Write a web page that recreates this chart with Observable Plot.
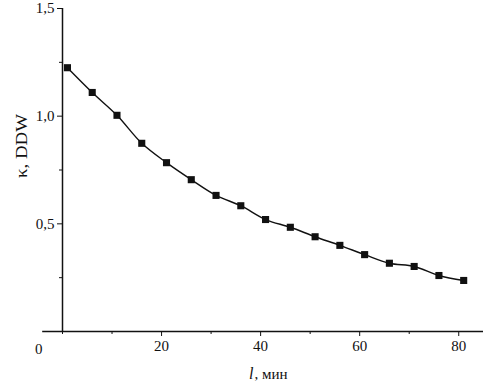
<!DOCTYPE html>
<html>
<head>
<meta charset="utf-8">
<script src="https://cdn.jsdelivr.net/npm/d3@7"></script>
<script src="https://cdn.jsdelivr.net/npm/@observablehq/plot@0.6"></script>
<style>
  html, body { margin: 0; padding: 0; background: #fff; }
  svg { display: block; }
</style>
</head>
<body>
<div id="chart"></div>
<script>
const times = [1, 6, 11, 16, 21, 26, 31, 36, 41, 46, 51, 56, 61, 66, 71, 76, 81];
const kappa = [1.225, 1.110, 1.004, 0.874, 0.784, 0.705, 0.632, 0.584, 0.520, 0.484, 0.440, 0.400, 0.357, 0.317, 0.302, 0.260, 0.237];
const xMajorTicks = [20, 40, 60, 80];
const xMinorTicks = [0, 10, 30, 50, 70];
const yMajorTicks = [0.5, 1.0, 1.5];
const yMinorTicks = [0.25, 0.75, 1.25];

const data = times.map((t, i) => ({t, k: kappa[i]}));
const fmt = d => d.toFixed(1).replace(".", ",");
const font = "Liberation Serif, Times New Roman, serif";

const chart = Plot.plot({
  width: 486,
  height: 389,
  marginLeft: 62,
  marginRight: 3,
  marginTop: 8,
  marginBottom: 58,
  style: {fontFamily: font, fontSize: "15px", color: "#111", background: "#fff"},
  x: {domain: [0, 85]},
  y: {domain: [0, 1.5]},
  marks: [
    Plot.ruleY([0], {x1: -4, x2: 85, stroke: "#111", strokeWidth: 1.5}),
    Plot.ruleX([0], {y1: 0, y2: 1.5, stroke: "#111", strokeWidth: 1.5}),
    Plot.axisX({ticks: xMajorTicks, tickSize: 5, tickPadding: 4, tickFormat: d => String(d), label: null, fontSize: 15, stroke: "#111"}),
    Plot.axisX({ticks: xMinorTicks, tickSize: 3, tickFormat: () => "", label: null, stroke: "#111"}),
    Plot.axisY({ticks: yMajorTicks, tickSize: 5, tickPadding: 3, tickFormat: fmt, label: null, fontSize: 15, stroke: "#111"}),
    Plot.axisY({ticks: yMinorTicks, tickSize: 3, tickFormat: () => "", label: null, stroke: "#111"}),
    Plot.text(["0"], {x: -4.8, y: 0, dy: 18, fontSize: 15, fill: "#111"}),
    Plot.text(["l"], {frameAnchor: "bottom-left", dx: 191, dy: 47, textAnchor: "end", fontStyle: "italic", fontSize: 16, fill: "#111"}),
    Plot.text([", мин"], {frameAnchor: "bottom-left", dx: 192, dy: 47, textAnchor: "start", fontSize: 15, fill: "#111", className: "xtitle"}),
    Plot.text(["κ, DDW"], {frameAnchor: "left", dx: -41, dy: 8, rotate: -90, fontSize: 16, fill: "#111", className: "ytitle"}),
    Plot.line(data, {x: "t", y: "k", curve: "catmull-rom", stroke: "#111", strokeWidth: 1.4}),
    Plot.dot(data, {x: "t", y: "k", symbol: "square", r: 4, fill: "#111", stroke: "none"})
  ]
});
const yt = chart.querySelector(".ytitle text");
if (yt) { yt.setAttribute("textLength", "64"); yt.setAttribute("lengthAdjust", "spacingAndGlyphs"); }
document.getElementById("chart").appendChild(chart);
</script>
</body>
</html>
